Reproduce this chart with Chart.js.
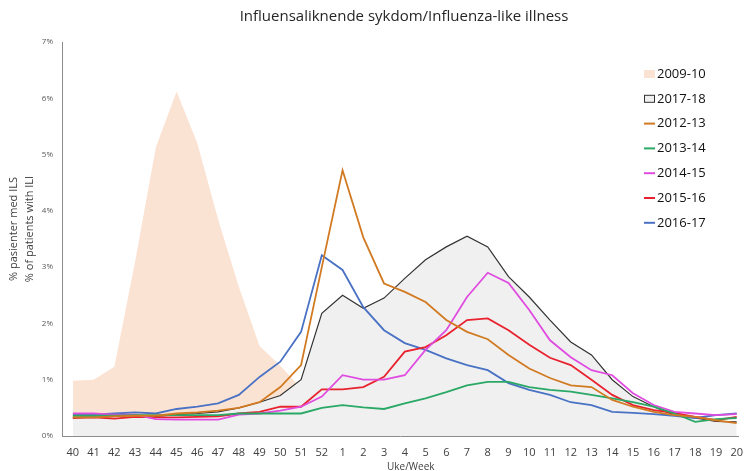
<!DOCTYPE html>
<html>
<head>
<meta charset="utf-8">
<script src="https://cdn.jsdelivr.net/npm/chart.js@4.4.1/dist/chart.umd.min.js"></script>
<style>
  html, body { margin: 0; padding: 0; background: #fff; }
  #wrap { width: 753px; height: 471px; }
</style>
</head>
<body>
<div id="wrap"><canvas id="myChart"></canvas></div>
<script>
// uker / weeks
var weeks = ["40", "41", "42", "43", "44", "45", "46", "47", "48", "49", "50", "51", "52",
  "1", "2", "3", "4", "5", "6", "7", "8", "9", "10", "11", "12", "13", "14", "15", "16", "17", "18", "19", "20"];
var yTickLabels = ["0%", "1%", "2%", "3%", "4%", "5%", "6%", "7%"];

var season0910 = [0.98, 1.0, 1.23, 3.1, 5.13, 6.12, 5.2, 3.85, 2.65, 1.6, 1.25, 0.85, 0.6,
  null, null, null, null, null, null, null, null, null, null, null, null, null, null, null, null, null, null, null, null];
var season1718 = [0.33, 0.33, 0.35, 0.37, 0.35, 0.38, 0.4, 0.43, 0.5, 0.6, 0.72, 1.0, 2.18,
  2.5, 2.27, 2.45, 2.8, 3.13, 3.36, 3.55, 3.36, 2.83, 2.47, 2.06, 1.67, 1.44, 1.0, 0.7, 0.52, 0.37, 0.32, 0.26, 0.25];
var season1213 = [0.33, 0.33, 0.35, 0.36, 0.36, 0.4, 0.42, 0.45, 0.5, 0.6, 0.87, 1.26, 3.0,
  4.72, 3.53, 2.71, 2.56, 2.38, 2.06, 1.85, 1.72, 1.44, 1.2, 1.03, 0.9, 0.87, 0.64, 0.52, 0.43, 0.37, 0.34, 0.28, 0.23];
var season1314 = [0.36, 0.36, 0.36, 0.37, 0.37, 0.37, 0.37, 0.37, 0.4, 0.4, 0.4, 0.4, 0.5,
  0.55, 0.51, 0.48, 0.58, 0.67, 0.78, 0.9, 0.96, 0.96, 0.87, 0.82, 0.79, 0.73, 0.67, 0.6, 0.52, 0.4, 0.25, 0.3, 0.32];
var season1415 = [0.4, 0.4, 0.38, 0.38, 0.3, 0.29, 0.29, 0.29, 0.38, 0.4, 0.45, 0.52, 0.7,
  1.08, 1.0, 1.0, 1.08, 1.53, 1.88, 2.47, 2.9, 2.72, 2.24, 1.7, 1.4, 1.17, 1.08, 0.76, 0.55, 0.43, 0.4, 0.37, 0.39];
var season1516 = [0.32, 0.33, 0.31, 0.34, 0.33, 0.33, 0.34, 0.35, 0.4, 0.43, 0.52, 0.52, 0.83,
  0.83, 0.87, 1.05, 1.5, 1.58, 1.79, 2.06, 2.09, 1.88, 1.62, 1.39, 1.26, 1.0, 0.73, 0.55, 0.46, 0.41, 0.34, 0.28, 0.34];
var season1617 = [0.38, 0.38, 0.4, 0.42, 0.4, 0.48, 0.52, 0.58, 0.73, 1.05, 1.32, 1.85, 3.21,
  2.95, 2.29, 1.88, 1.65, 1.53, 1.38, 1.26, 1.17, 0.94, 0.82, 0.73, 0.6, 0.55, 0.43, 0.41, 0.39, 0.36, 0.32, 0.37, 0.4];

function points(vals) {
  return vals.map(function (v, i) { return { x: i, y: v }; });
}

var FONT = "'Open Sans', 'Noto Sans', sans-serif";

function lineSet(label, vals, color) {
  return {
    label: label,
    data: points(vals),
    borderColor: color,
    backgroundColor: color,
    borderWidth: 1.8,
    pointRadius: 0,
    fill: false,
    tension: 0,
    order: 1
  };
}

// tittel, aksetitler og legende
var extras = {
  id: "extras",
  afterDraw: function (chart) {
    var ctx = chart.ctx;
    ctx.save();
    ctx.fillStyle = "#262626";
    ctx.font = "15px " + FONT;
    ctx.textAlign = "center";
    ctx.textBaseline = "middle";
    ctx.fillText("Influensaliknende sykdom/Influenza-like illness", 404, 17);

    ctx.fillStyle = "#404040";
    ctx.font = "10px " + FONT;
    ctx.textAlign = "left";
    ctx.fillText("Uke/Week", 387, 467);

    ctx.save();
    ctx.translate(14, 229);
    ctx.rotate(-Math.PI / 2);
    ctx.textAlign = "center";
    ctx.font = "11px " + FONT;
    ctx.fillText("% pasienter med ILS", 0, 0);
    ctx.fillText("% of patients with ILI", 0, 16);
    ctx.restore();

    // legende
    var lx = 644, ly = 74, step = 24.8;
    chart.data.datasets.forEach(function (ds, i) {
      var y = ly + i * step;
      if (ds.fill) {
        ctx.fillStyle = ds.backgroundColor;
        ctx.fillRect(lx, y - 4, 11, 8);
        if (ds.borderWidth > 0) {
          ctx.strokeStyle = ds.borderColor;
          ctx.lineWidth = 1;
          ctx.strokeRect(lx + 0.5, y - 3.5, 10, 7);
        }
      } else {
        ctx.strokeStyle = ds.borderColor;
        ctx.lineWidth = 2;
        ctx.beginPath();
        ctx.moveTo(lx, y);
        ctx.lineTo(lx + 11, y);
        ctx.stroke();
      }
      ctx.fillStyle = "#111";
      ctx.font = "13px " + FONT;
      ctx.textAlign = "left";
      ctx.textBaseline = "middle";
      ctx.fillText(ds.label, lx + 13, y);
    });
    ctx.restore();
  }
};

var ctx = document.getElementById("myChart").getContext("2d");
var myChart = new Chart(ctx, {
  type: "line",
  data: {
    datasets: [
      {
        label: "2009-10",
        data: points(season0910),
        backgroundColor: "#fbe3d4",
        borderColor: "rgba(0,0,0,0)",
        borderWidth: 0,
        pointRadius: 0,
        fill: "origin",
        tension: 0,
        order: 10
      },
      {
        label: "2017-18",
        data: points(season1718),
        backgroundColor: "#f0f0f0",
        borderColor: "#333333",
        borderWidth: 1.2,
        pointRadius: 0,
        fill: "origin",
        tension: 0,
        order: 9
      },
      lineSet("2012-13", season1213, "#d27a22"),
      lineSet("2013-14", season1314, "#2aa866"),
      lineSet("2014-15", season1415, "#e04ce0"),
      lineSet("2015-16", season1516, "#e8232f"),
      lineSet("2016-17", season1617, "#4a72c4")
    ]
  },
  options: {
    responsive: true,
    maintainAspectRatio: false,
    animation: false,
    layout: { padding: { top: 42, right: 6, left: 0, bottom: 0 } },
    plugins: {
      legend: { display: false },
      title: { display: false },
      tooltip: { enabled: false }
    },
    scales: {
      x: {
        type: "linear",
        min: -0.524,
        max: 32.095,
        grid: { display: false, drawTicks: false },
        border: { display: true, color: "#8c8c8c", width: 1 },
        afterBuildTicks: function (scale) {
          scale.ticks = weeks.map(function (w, i) { return { value: i }; });
        },
        afterFit: function (scale) { scale.height = 35; },
        ticks: {
          autoSkip: false,
          maxRotation: 0,
          padding: 10,
          color: "#404040",
          font: { family: FONT, size: 11 },
          callback: function (v) { return weeks[v]; }
        }
      },
      y: {
        min: 0,
        max: 7,
        grid: { display: false, drawTicks: false },
        border: { display: true, color: "#8c8c8c", width: 1 },
        afterFit: function (scale) { scale.width = 62; },
        ticks: {
          stepSize: 1,
          padding: 9,
          color: "#595959",
          font: { family: FONT, size: 8 },
          callback: function (v) { return yTickLabels[v]; }
        }
      }
    }
  },
  plugins: [extras]
});
</script>
</body>
</html>
